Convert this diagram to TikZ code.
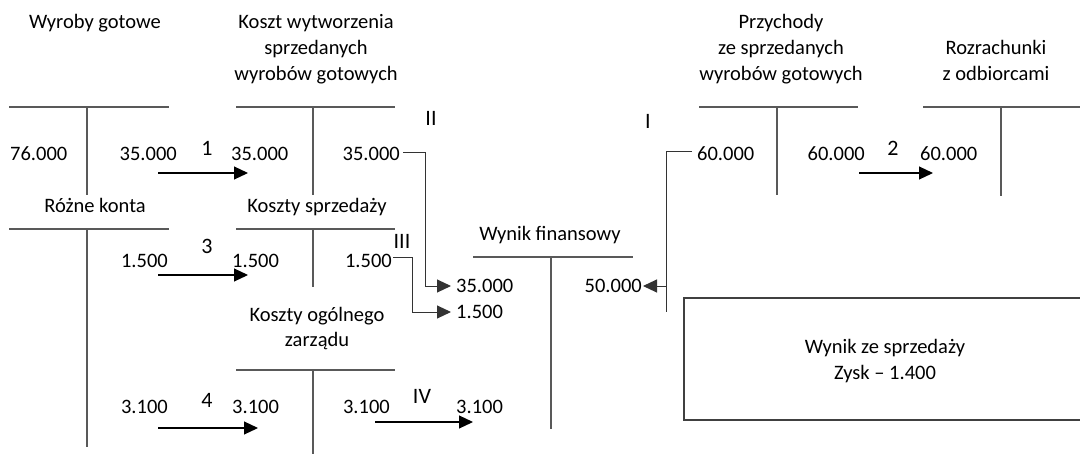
\documentclass[tikz,border=0pt]{standalone}
\usepackage{fontspec}
\setmainfont{Carlito}
\usetikzlibrary{arrows.meta}
\begin{document}
\begin{tikzpicture}[x=1pt,y=-1pt,
  txt/.style={inner sep=0pt, anchor=base, font=\fontsize{20.5}{24}\selectfont},
  stepno/.style={inner sep=0pt, anchor=base, font=\fontsize{22}{26}\selectfont},
  tline/.style={draw=black!65, line width=1.1pt},
  conn/.style={draw=black!80, line width=1pt, -{Triangle[length=14pt,width=13pt]}},
  plainconn/.style={draw=black!80, line width=1pt},
  arr/.style={draw=black, line width=1.1pt, -{Triangle[length=14pt,width=13pt]}},
  boxst/.style={draw=black!75, line width=1.6pt}]
\useasboundingbox (0,0) rectangle (1080,453);
\clip (0,0) rectangle (1080,453);

% ---- T accounts ----
% Wyroby gotowe
\coordinate (wgL) at (9,107); \coordinate (wgR) at (169,107);
\coordinate (wgT) at (87,107); \coordinate (wgB) at (87,195);
\draw[tline] (wgL) -- (wgR); \draw[tline] (wgT) -- (wgB);
% Koszt wytworzenia
\coordinate (kwL) at (236,107); \coordinate (kwR) at (395,107);
\coordinate (kwT) at (313,107); \coordinate (kwB) at (313,195);
\draw[tline] (kwL) -- (kwR); \draw[tline] (kwT) -- (kwB);
% Rozne konta
\coordinate (rkL) at (9,229); \coordinate (rkR) at (169,229);
\coordinate (rkT) at (87,229); \coordinate (rkB) at (87,447);
\draw[tline] (rkL) -- (rkR); \draw[tline] (rkT) -- (rkB);
% Koszty sprzedazy
\coordinate (ksL) at (236,229); \coordinate (ksR) at (395,229);
\coordinate (ksT) at (313,229); \coordinate (ksB) at (313,287);
\draw[tline] (ksL) -- (ksR); \draw[tline] (ksT) -- (ksB);
% Koszty ogolnego zarzadu
\coordinate (koL) at (236,370); \coordinate (koR) at (395,370);
\coordinate (koT) at (313,370); \coordinate (koB) at (313,455);
\draw[tline] (koL) -- (koR); \draw[tline] (koT) -- (koB);
% Wynik finansowy
\coordinate (wfL) at (473,257); \coordinate (wfR) at (633,257);
\coordinate (wfT) at (551,257); \coordinate (wfB) at (551,429);
\draw[tline] (wfL) -- (wfR); \draw[tline] (wfT) -- (wfB);
% Przychody
\coordinate (prL) at (699,107); \coordinate (prR) at (858,107);
\coordinate (prT) at (777,107); \coordinate (prB) at (777,195);
\draw[tline] (prL) -- (prR); \draw[tline] (prT) -- (prB);
% Rozrachunki
\coordinate (roL) at (923,107); \coordinate (roR) at (1084,107);
\coordinate (roT) at (1001,107); \coordinate (roB) at (1001,196);
\draw[tline] (roL) -- (roR); \draw[tline] (roT) -- (roB);

% ---- titles ----
\node[txt] (tWG) at (95,28) {Wyroby gotowe};
\node[txt] (tKW1) at (316,28) {Koszt wytworzenia};
\node[txt] (tKW2) at (316,54) {sprzedanych};
\node[txt] (tKW3) at (316,80) {wyrobów gotowych};
\node[txt] (tPR1) at (781,28) {Przychody};
\node[txt] (tPR2) at (781,54) {ze sprzedanych};
\node[txt] (tPR3) at (781,80) {wyrobów gotowych};
\node[txt] (tRO1) at (996,54) {Rozrachunki};
\node[txt] (tRO2) at (996,80) {z odbiorcami};
\node[txt] (tRK) at (95,212) {Różne konta};
\node[txt] (tKS) at (317,212) {Koszty sprzedaży};
\node[txt] (tKO1) at (317,321) {Koszty ogólnego};
\node[txt] (tKO2) at (317,346) {zarządu};
\node[txt] (tWF) at (550,240) {Wynik finansowy};

% ---- values ----
\node[txt,anchor=base west] (v76) at (10,160) {76.000};
\node[txt,anchor=base east] (vWG35) at (177,160) {35.000};
\node[txt,anchor=base west] (vKWd) at (231,160) {35.000};
\node[txt,anchor=base east] (vKWc) at (400,160) {35.000};
\node[txt,anchor=base west] (vPRd) at (697,160) {60.000};
\node[txt,anchor=base east] (vPRc) at (865,160) {60.000};
\node[txt,anchor=base west] (vROd) at (920,160) {60.000};
\node[txt,anchor=base east] (vRK15) at (168,267) {1.500};
\node[txt,anchor=base west] (vKSd) at (232,267) {1.500};
\node[txt,anchor=base east] (vKSc) at (392,267) {1.500};
\node[txt,anchor=base east] (vRK31) at (168,413) {3.100};
\node[txt,anchor=base west] (vKOd) at (232,413) {3.100};
\node[txt,anchor=base east] (vKOc) at (390,413) {3.100};
\node[txt,anchor=base west] (vWF35) at (456,292) {35.000};
\node[txt,anchor=base west] (vWF15) at (456,318) {1.500};
\node[txt,anchor=base west] (vWF31) at (456,413) {3.100};
\node[txt,anchor=base east] (vWF50) at (642,292) {50.000};

% ---- step labels ----
\node[stepno] (s1) at (207,155) {1};
\node[stepno] (s2) at (893,155) {2};
\node[stepno] (s3) at (207,253) {3};
\node[stepno] (s4) at (207,407) {4};
\node[stepno] (sI) at (648,128) {I};
\node[stepno] (sII) at (431,125) {II};
\node[stepno] (sIII) at (402,248) {III};
\node[stepno] (sIV) at (422,403) {IV};

% ---- straight arrows ----
\coordinate (a1s) at (158,173); \coordinate (a1e) at (248,173);
\coordinate (a2s) at (859,173); \coordinate (a2e) at (933,173);
\coordinate (a3s) at (158,275); \coordinate (a3e) at (248,275);
\coordinate (a4s) at (158,428); \coordinate (a4e) at (258,428);
\coordinate (aIVs) at (375,422); \coordinate (aIVe) at (473,422);
\draw[arr] (a1s) -- (a1e);
\draw[arr] (a2s) -- (a2e);
\draw[arr] (a3s) -- (a3e);
\draw[arr] (a4s) -- (a4e);
\draw[arr] (aIVs) -- (aIVe);

% ---- closing connectors ----
\coordinate (c2a) at (403,152); \coordinate (c2b) at (425,152);
\coordinate (c2c) at (425,286); \coordinate (c2d) at (451,286);
\draw[conn] (c2a) -- (c2b) -- (c2c) -- (c2d);
\coordinate (c3a) at (393,257); \coordinate (c3b) at (412,257);
\coordinate (c3c) at (412,312); \coordinate (c3d) at (451,312);
\draw[conn] (c3a) -- (c3b) -- (c3c) -- (c3d);
\coordinate (c1a) at (692,151); \coordinate (c1b) at (666,151);
\coordinate (c1c) at (666,312);
\draw[plainconn] (c1a) -- (c1b) -- (c1c);
\coordinate (c1d) at (666,286); \coordinate (c1e) at (643,286);
\draw[conn] (c1d) -- (c1e);

% ---- result box ----
\node[boxst, inner sep=0pt, minimum width=410pt, minimum height=122pt, anchor=north west] (box) at (683,297) {};
\node[txt] (bx1) at (885,353) {Wynik ze sprzedaży};
\node[txt] (bx2) at (885,379) {Zysk – 1.400};
\end{tikzpicture}
\end{document}
